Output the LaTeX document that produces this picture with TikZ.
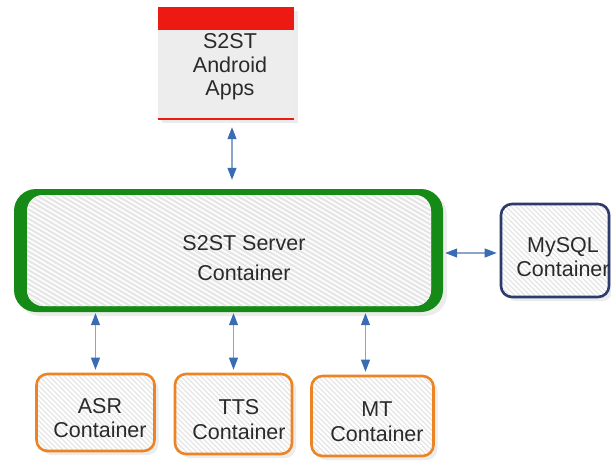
\documentclass[tikz,border=0pt]{standalone}
\usepackage{fontspec}
\setmainfont{Liberation Sans}
\usetikzlibrary{arrows.meta,shadows,calc}
\definecolor{srvgreen}{HTML}{168A16}
\definecolor{topred}{HTML}{EC1A12}
\definecolor{boxorange}{HTML}{EC8424}
\definecolor{navy}{HTML}{2C3A6C}
\definecolor{arrowblue}{HTML}{3A6CB4}
\definecolor{linkblue}{HTML}{8CA4C8}
\definecolor{appgray}{HTML}{EDEDED}
\definecolor{stripe}{HTML}{E6E6E6}
\definecolor{txt}{HTML}{2A2A2A}
\begin{document}
\begin{tikzpicture}[x=1pt,y=-1pt,
  every node/.style={align=center, text=txt},
  lbl/.style={font=\fontsize{21.5}{24.5}\selectfont},
  hatch/.style={fill=white, path picture={
      \foreach \i in {-150,-145,...,150}
        \draw[stripe, line width=1.3pt]
          ($(path picture bounding box.center)+(\i-80,-80)$) -- ++(160,160);}},
  bighatch/.style={fill=white, path picture={
      \foreach \i in {-330,-322,...,330}
        \draw[stripe, line width=2.2pt]
          ($(path picture bounding box.center)+(\i-120,-70)$) -- ++(240,140);}},
  softshadow/.style={drop shadow={opacity=0.15, shadow xshift=4pt, shadow yshift=-4pt}},
  container/.style={draw=boxorange, line width=2.6pt, rounded corners=11pt, hatch,
    inner sep=0pt, softshadow},
  link/.style={draw=linkblue, line width=1.1pt,
    {Triangle[length=12pt,width=9pt,color=arrowblue]}-{Triangle[length=12pt,width=9pt,color=arrowblue]}}
]
\useasboundingbox (0,0) rectangle (611,461);

% Android apps
\node[draw=none, fill=appgray, minimum width=136pt, minimum height=112pt, inner sep=0pt,
  softshadow] (android) at (226,63) {};
\fill[topred] (android.north west) rectangle ($(android.north east)+(0,23)$);
\draw[topred, line width=1.6pt] (android.south west) -- (android.south east);
\node[lbl, font=\fontsize{21.5}{23.5}\selectfont] (androidtext) at (230,67) {S2ST\\Android\\Apps};

% Server container
\node[fill=srvgreen, rounded corners=22pt, minimum width=429pt, minimum height=123pt,
  inner sep=0pt, softshadow] (server) at (228.5,250.5) {};
\node[bighatch, rounded corners=16pt, minimum width=404pt, minimum height=111pt,
  inner sep=0pt] (serverin) at (229,250.5) {};
\node[lbl, font=\fontsize{21.5}{30}\selectfont] (servertext) at (244,258) {S2ST Server\\Container};

% MySQL
\node[container, draw=navy, minimum width=108pt, minimum height=93pt] (mysql)
  at (555,250.5) {};
\node[lbl] (mysqltext) at (563,257) {MySQL\\Container};

% Bottom containers
\node[container, minimum width=118pt, minimum height=77pt] (asr) at (95.5,412.5) {};
\node[lbl] (asrtext) at (100,418) {ASR\\Container};
\node[container, minimum width=117pt, minimum height=80pt] (tts) at (233.5,414) {};
\node[lbl] (ttstext) at (239,419.5) {TTS\\Container};
\node[container, minimum width=122pt, minimum height=80pt] (mt) at (372.5,416) {};
\node[lbl] (mttext) at (377,421.5) {MT\\Container};

% Connectors
\coordinate (topx) at ($(android.south)+(6,0)$);
\draw[link, shorten <=8pt, shorten >=9pt] (topx) -- (topx |- server.north);
\draw[link, shorten <=1pt, shorten >=3pt] (server.south -| asr.north) -- (asr.north);
\draw[link, shorten <=1pt, shorten >=3pt] (server.south -| tts.north) -- (tts.north);
\coordinate (mtx) at ($(mt.north)+(-7,0)$);
\draw[link, shorten <=1pt, shorten >=3pt] (mtx |- server.south) -- (mtx);
\draw[link, shorten <=2pt, shorten >=3pt] (server.east |- 0,253) -- (mysql.west |- 0,253);
\end{tikzpicture}
\end{document}
